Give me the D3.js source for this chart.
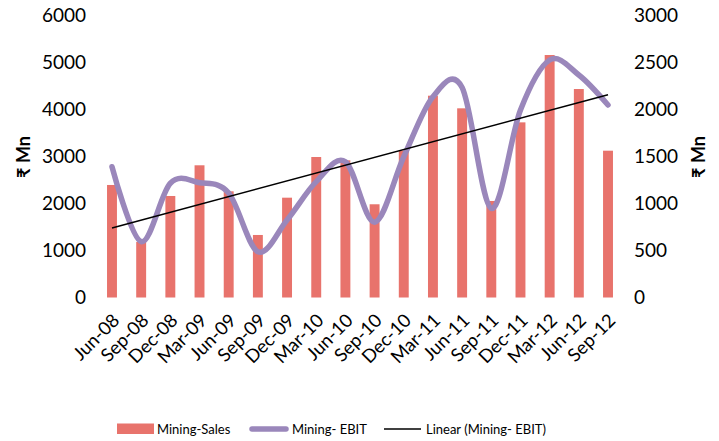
<!DOCTYPE html>
<html>
<head>
<meta charset="utf-8">
<script src="https://cdn.jsdelivr.net/npm/d3@7"></script>
<style>
  body { margin: 0; background: #fff; }
  text { font-family: Lato, "Noto Sans", "DejaVu Sans", sans-serif; fill: #000; }
</style>
</head>
<body>
<svg id="chart" width="719" height="441"></svg>
<script>
// quarters
var quarters = ["Jun-08", "Sep-08", "Dec-08", "Mar-09", "Jun-09", "Sep-09", "Dec-09", "Mar-10", "Jun-10",
    "Sep-10", "Dec-10", "Mar-11", "Jun-11", "Sep-11", "Dec-11", "Mar-12", "Jun-12", "Sep-12"];
// Mining-Sales, left axis
var sales = [2390, 1180, 2156, 2808, 2255, 1328, 2120, 2984, 2914,
    1980, 3118, 4286, 4018, 2050, 3720, 5150, 4428, 3118];
// Mining- EBIT, right axis
var ebit = [1389, 593, 1213, 1219, 1110, 486, 823, 1230, 1442,
    800, 1495, 2132, 2230, 947, 1991, 2522, 2363, 2044];
var leftTicks = [0, 1000, 2000, 3000, 4000, 5000, 6000];
var rightTicks = [0, 500, 1000, 1500, 2000, 2500, 3000];

var svg = d3.select("#chart");

var x = d3.scalePoint()
    .domain(quarters)
    .range([97.4, 622.6])
    .padding(0.5);
var barW = x.step() * 0.34;

var yL = d3.scaleLinear().domain([0, 6000]).range([297.5, 15]);
var yR = d3.scaleLinear().domain([0, 3000]).range([297.5, 15]);

// bars
svg.append("g").selectAll("rect")
    .data(sales)
    .enter().append("rect")
        .attr("x", function (d, i) { return x(quarters[i]) - barW / 2; })
        .attr("y", function (d) { return yL(d); })
        .attr("width", barW)
        .attr("height", function (d) { return yL(0) - yL(d); })
        .attr("fill", "#e8736c");

// smoothed EBIT line
var line = d3.line()
    .x(function (d, i) { return x(quarters[i]); })
    .y(function (d) { return yR(d); })
    .curve(d3.curveCardinal.tension(0));
svg.append("path")
    .attr("d", line(ebit))
    .attr("fill", "none")
    .attr("stroke", "#9a87bb")
    .attr("stroke-width", 5.5)
    .attr("stroke-linecap", "round");

// linear trend of EBIT
var n = ebit.length;
var mx = (n - 1) / 2, my = d3.mean(ebit);
var sxy = 0, sxx = 0;
ebit.forEach(function (v, i) { sxy += (i - mx) * (v - my); sxx += (i - mx) * (i - mx); });
var slope = sxy / sxx, icpt = my - slope * mx;
svg.append("line")
    .attr("x1", x(quarters[0])).attr("y1", yR(icpt))
    .attr("x2", x(quarters[n - 1])).attr("y2", yR(icpt + slope * (n - 1)))
    .attr("stroke", "#000")
    .attr("stroke-width", 1.5);

// axes (labels only)
var axL = svg.append("g").attr("transform", "translate(93,0)")
    .call(d3.axisLeft(yL).tickValues(leftTicks).tickFormat(d3.format("d")).tickSize(0).tickPadding(7));
var axR = svg.append("g").attr("transform", "translate(627,0)")
    .call(d3.axisRight(yR).tickValues(rightTicks).tickFormat(d3.format("d")).tickSize(0).tickPadding(7));
[axL, axR].forEach(function (ax) {
    ax.select(".domain").remove();
    ax.selectAll("text").style("font-size", "19px").style("font-family", null).attr("fill", "#000");
});

var axX = svg.append("g").attr("transform", "translate(0,297.5)")
    .call(d3.axisBottom(x).tickSize(0));
axX.select(".domain").remove();
axX.selectAll("text")
    .style("font-size", "18.5px").style("font-family", null).attr("fill", "#000")
    .attr("text-anchor", "end")
    .attr("dy", 0)
    .attr("transform", "translate(6,22) rotate(-45)");

// axis titles
svg.append("text")
    .attr("transform", "translate(30,157) rotate(-90)")
    .attr("text-anchor", "middle")
    .style("font-size", "18px").style("font-weight", "bold")
    .text("₹ Mn");
svg.append("text")
    .attr("transform", "translate(705,157) rotate(-90)")
    .attr("text-anchor", "middle")
    .style("font-size", "18px").style("font-weight", "bold")
    .text("₹ Mn");

// legend
var lg = svg.append("g").style("font-size", "13px");
lg.append("rect").attr("x", 117).attr("y", 423.5).attr("width", 37).attr("height", 10.5).attr("fill", "#e8736c");
lg.append("text").attr("x", 157).attr("y", 433.5).text("Mining-Sales");
lg.append("line").attr("x1", 252).attr("x2", 286).attr("y1", 429).attr("y2", 429)
    .attr("stroke", "#9a87bb").attr("stroke-width", 5.5).attr("stroke-linecap", "round");
lg.append("text").attr("x", 292).attr("y", 433.5).text("Mining- EBIT");
lg.append("line").attr("x1", 384).attr("x2", 421).attr("y1", 429).attr("y2", 429)
    .attr("stroke", "#000").attr("stroke-width", 1.5);
lg.append("text").attr("x", 426).attr("y", 433.5).text("Linear (Mining- EBIT)");
</script>
</body>
</html>
